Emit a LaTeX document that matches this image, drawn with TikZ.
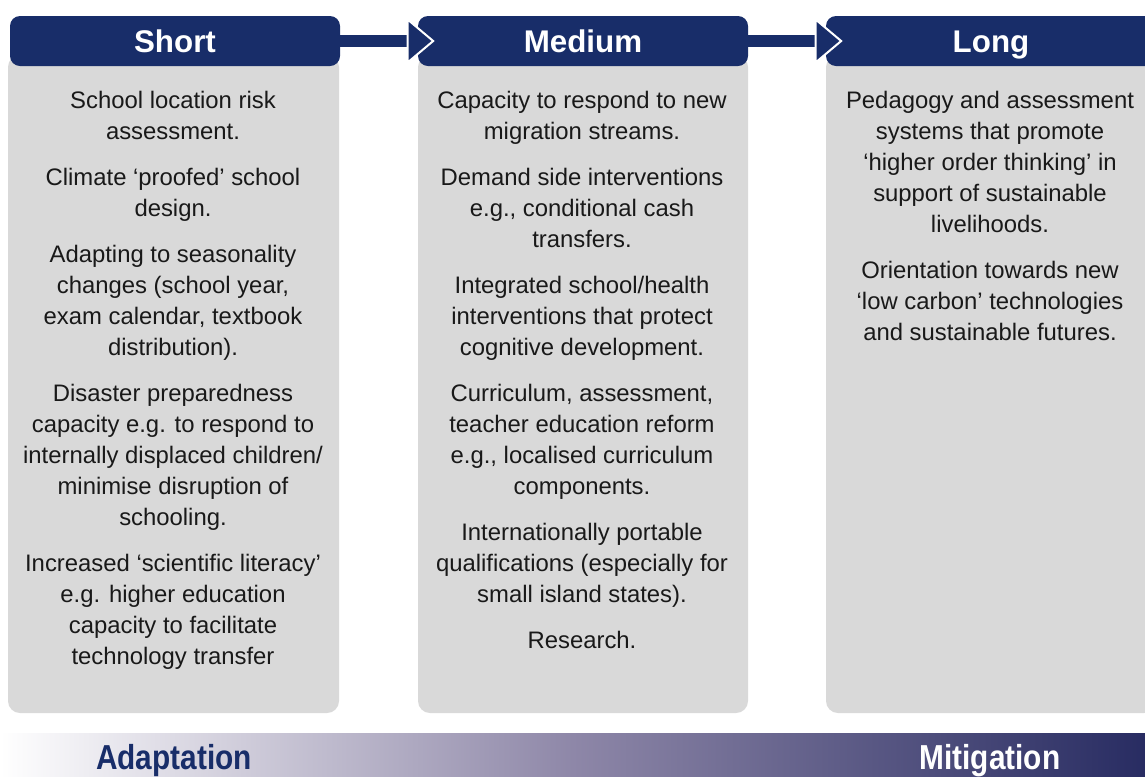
\documentclass[tikz,border=0pt]{standalone}
\usepackage{fontspec}
\setmainfont{Liberation Sans}
\usepackage{tikz}
\usetikzlibrary{arrows.meta}
\newdimen\pxu
\pxu=0.75pt
\definecolor{navy}{RGB}{24,45,105}
\definecolor{boxgray}{RGB}{217,217,217}
\definecolor{bartail}{RGB}{40,44,98}
\definecolor{barmid}{RGB}{142,135,168}
\definecolor{txtgray}{RGB}{25,25,25}
\tikzset{
  >=latex,
}
\tikzstyle{header}=[fill=navy,rounded corners=10\pxu,minimum width=330\pxu,minimum height=50\pxu,
  inner sep=0pt,text=white,text height=17pt,text depth=0pt,
  font=\fontsize{23.5}{28}\bfseries\selectfont]
\tikzstyle{colbox}=[fill=boxgray,rounded corners=12\pxu,minimum height=658\pxu,inner sep=0pt]
\tikzstyle{coltext}=[anchor=north,inner sep=0pt,align=center,text=txtgray,
  font=\fontsize{17.9}{23.25}\selectfont]
\tikzstyle{stepflow}=[navy,line width=12\pxu,shorten <=-2\pxu,shorten >=-17\pxu,
  -{Triangle[length=21pt,width=35pt,line width=1.5pt,color=white,fill=navy]}]
\tikzstyle{barlabel}=[anchor=base,inner sep=0pt,font=\fontsize{26}{30}\bfseries\selectfont]

\begin{document}
\begin{tikzpicture}[x=\pxu,y=-\pxu]
  \useasboundingbox (0,0) rectangle (1145,776);

  % columns
  \node[colbox,minimum width=331\pxu] (bshort) at (173.5,384) {};
  \node[colbox,minimum width=330\pxu] (bmedium) at (583,384) {};
  \node[colbox,minimum width=330\pxu] (blong) at (991,384) {};

  \node[header] (hshort) at (175,41) {Short};
  \node[header] (hmedium) at (583,41) {Medium};
  \node[header] (hlong) at (991,41) {Long};

  \draw[stepflow] (hshort.east) -- (hmedium.west);
  \draw[stepflow] (hmedium.east) -- (hlong.west);

  \node[coltext] (tshort) at (173,91) {School location risk\\assessment.\\[11.25pt]
    Climate ‘proofed’ school\\design.\\[11.25pt]
    Adapting to seasonality\\changes (school year,\\exam calendar, textbook\\distribution).\\[11.25pt]
    Disaster preparedness\\capacity e.g. to respond to\\internally displaced children/\\minimise disruption of\\schooling.\\[11.25pt]
    Increased ‘scientific literacy’\\e.g. higher education\\capacity to facilitate\\technology transfer};
  \node[coltext] (tmedium) at (582,91) {Capacity to respond to new\\migration streams.\\[11.25pt]
    Demand side interventions\\e.g., conditional cash\\transfers.\\[11.25pt]
    Integrated school/health\\interventions that protect\\cognitive development.\\[11.25pt]
    Curriculum, assessment,\\teacher education reform\\e.g., localised curriculum\\components.\\[11.25pt]
    Internationally portable\\qualifications (especially for\\small island states).\\[11.25pt]
    Research.};
  \node[coltext] (tlong) at (990,91) {Pedagogy and assessment\\systems that promote\\‘higher order thinking’ in\\support of sustainable\\livelihoods.\\[11.25pt]
    Orientation towards new\\‘low carbon’ technologies\\and sustainable futures.};

  % adaptation -> mitigation bar
  \fill[left color=white,right color=bartail,middle color=barmid] (0,733) rectangle (1145,776);
  \node[barlabel,text=navy] (adapt) at (174,769) {\scalebox{0.86}[1]{Adaptation}};
  \node[barlabel,text=white] (mitig) at (990,769) {\scalebox{0.86}[1]{Mitigation}};
\end{tikzpicture}
\end{document}
